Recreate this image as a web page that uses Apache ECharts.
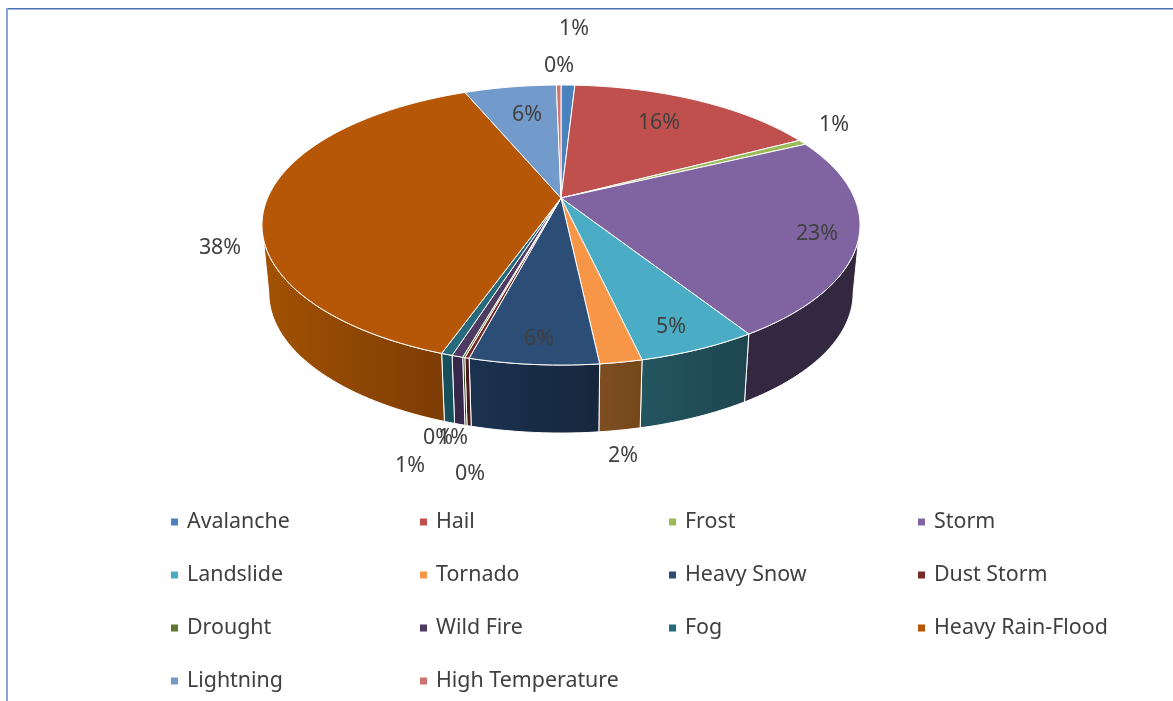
<!DOCTYPE html>
<html><head><meta charset="utf-8">
<style>html,body{margin:0;padding:0;background:#fff}#c{width:1173px;height:701px}</style>
<script src="https://cdn.jsdelivr.net/npm/echarts@6/dist/echarts.min.js"></script>
</head><body><div id="c"></div>
<script>
const categories = ['Avalanche','Hail','Frost','Storm','Landslide','Tornado','Heavy Snow','Dust Storm','Drought','Wild Fire','Fog','Heavy Rain-Flood','Lightning','High Temperature'];
const shares = [0.9,16.4,0.6,23.1,5.4,1.9,5.8,0.2,0.1,0.5,0.5,38.3,6.0,0.3];
const topColors = ['#4A82BE','#C0504D','#9BBB59','#8064A2','#4BACC6','#F79646','#2C4D75','#772C2A','#5F7530','#4D3B62','#276A7C','#B65708','#729ACA','#CD7371'];
const wallColors = [null,null,null,['#33283F','#33283F'],['#235560','#1E4650'],['#7E4E22','#744719'],['#1B3250','#16263C'],['#4A1A1A','#4A1A1A'],['#3A4A20','#3A4A20'],['#35284A','#35284A'],['#17505C','#17505C'],['#A35202','#7C3C05'],null,null];
const labelCentres = [[574,29],[659,123],[834,125],[817,234],[671,327],[623,456],[539,339],[470,474],[438,438],[453,438],[410,466],[220,248],[527,115],[559,66]];
const legendColumns = [[0,4,8,12],[1,5,9,13],[2,6,10],[3,7,11]];
const legendLefts = [171,420,669,918];

// Disc geometry: projective view of a flat circle
const apexX = 561, apexY = 198, scaleU = 293.4, scaleV = 134.8, persp = 0.193;
const depth = 68, bottomShrink = 0.977;
const visibleFrom = 101.1, visibleTo = 258.9; // rim angles facing the viewer
const total = shares.reduce((a,b)=>a+b,0);
const starts = []; shares.reduce((acc,v,i)=>{starts[i]=acc; return acc+v;},0);

function rim(deg){
  const t = deg*Math.PI/180, u = Math.sin(t), v = -Math.cos(t), w = 1-persp*v;
  return [apexX+scaleU*u/w, apexY+scaleV*v/w];
}
function rimBottom(deg){
  const p = rim(deg);
  return [apexX+(p[0]-apexX)*bottomShrink, p[1]+depth];
}
function sweep(a,b){
  const n = Math.max(2,Math.ceil((b-a)/1.5)), out=[];
  for(let i=0;i<=n;i++) out.push(a+(b-a)*i/n);
  return out;
}
const edge = {stroke:'#fff',lineWidth:1,lineJoin:'round'};

function makeRender(i){
  return function(params,api){
    const value = api.value(0);
    const a0 = starts[i]/total*360, a1 = a0+value/total*360;
    const children = [];
    const w0 = Math.max(a0,visibleFrom), w1 = Math.min(a1,visibleTo);
    if(w1>w0 && wallColors[i]){
      const angles = sweep(w0,w1);
      const pts = angles.map(rim).concat(angles.slice().reverse().map(rimBottom));
      children.push({type:'polygon',shape:{points:pts},z2:1,style:Object.assign({},edge,{
        fill:new echarts.graphic.LinearGradient(0,0,1,0,[{offset:0,color:wallColors[i][0]},{offset:1,color:wallColors[i][1]}])})});
    }
    const top = [[apexX,apexY]].concat(sweep(a0,a1).map(rim));
    children.push({type:'polygon',shape:{points:top},z2:2,style:Object.assign({},edge,{fill:topColors[i]})});
    children.push({type:'text',z2:50,x:labelCentres[i][0],y:labelCentres[i][1],style:{
      text:Math.round(value/total*100)+'%',font:'21.4px "Noto Sans"',fill:'#404040',align:'center',verticalAlign:'middle'}});
    return {type:'group',children};
  };
}

const chart = echarts.init(document.getElementById('c'),null,{renderer:'canvas'});
chart.setOption({
  animation:false,
  backgroundColor:'#fff',
  graphic:[
    {type:'rect',shape:{x:7,y:8,width:1166,height:1.5},style:{fill:'#4A72B8'},silent:true},
    {type:'rect',shape:{x:6,y:8,width:2,height:693},style:{fill:'#8DA6D8'},silent:true}
  ],
  legend:legendColumns.map((col,k)=>({
    orient:'vertical',left:legendLefts[k],top:510,padding:0,itemGap:29,itemWidth:7,itemHeight:7,icon:'rect',
    selectedMode:false,data:col.map(i=>categories[i]),
    textStyle:{color:'#404040',fontFamily:'Noto Sans',fontSize:21.4,lineHeight:24,padding:[0,0,0,4]}
  })),
  series:categories.map((name,i)=>({
    type:'custom',name,coordinateSystem:'none',silent:true,z:2,
    itemStyle:{color:topColors[i]},
    renderItem:makeRender(i),data:[[shares[i]]]
  }))
});
</script></body></html>
